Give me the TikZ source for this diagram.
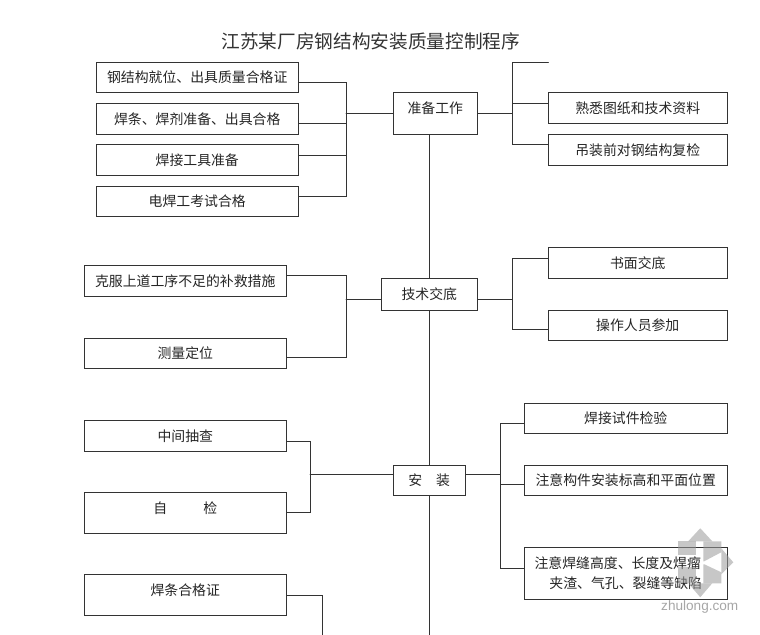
\documentclass[tikz,border=0pt]{standalone}
\usepackage{fontspec}
\setmainfont{Noto Sans CJK SC}
\newfontfamily\markfont{Liberation Sans}
\usetikzlibrary{calc}

\begin{document}
\begin{tikzpicture}[x=0.75pt,y=-0.75pt,cap=round]
  % Colors
  \colorlet{linecolor}{black!80}
  \colorlet{markcolor}{black!40}

  % Styles
  \tikzstyle{box}=[draw=linecolor,line width=0.85pt,fill=white,inner sep=0pt,
    text=black!85,align=center,font=\fontsize{10.4}{15}\selectfont]
  \tikzstyle{wide box}=[box,minimum width=151.5pt,minimum height=23.25pt]
  \tikzstyle{side box}=[box,minimum width=134.25pt,minimum height=23.25pt]
  \tikzstyle{long box}=[box,minimum width=152.25pt,minimum height=22.5pt]
  \tikzstyle{conn}=[draw=linecolor,line width=0.85pt]

  \useasboundingbox (-0.25,-0.25) rectangle (759.75,634.75);

  % Title
  \node[text=black!80,font=\fontsize{14}{16}\selectfont] (title) at (370.5,41) {江苏某厂房钢结构安装质量控制程序};

  % Main steps
  \node[box,minimum width=63pt,minimum height=31.5pt] (prep) at (435,113) {\raisebox{9pt}{准备工作}};
  \node[box,minimum width=72pt,minimum height=24pt] (brief) at (429,294) {技术交底};
  \node[box,minimum width=54pt,minimum height=22.5pt] (inst) at (429,480) {安\quad 装};

  % First group
  \node[wide box,minimum height=22.5pt] (certa) at (197,77) {钢结构就位、出具质量合格证};
  \node[wide box] (rod) at (197,118.5) {焊条、焊剂准备、出具合格};
  \node[wide box] (tool) at (197,159.5) {焊接工具准备};
  \node[wide box,minimum height=22.5pt] (welder) at (197,201) {电焊工考试合格};
  \node[side box] (draw) at (637.5,107.5) {熟悉图纸和技术资料};
  \node[side box] (recheck) at (637.5,149.5) {吊装前对钢结构复检};

  % Second group
  \node[wide box] (remedy) at (185,280.5) {克服上道工序不足的补救措施};
  \node[wide box,minimum height=22.5pt] (survey) at (185,353) {测量定位};
  \node[side box] (paper) at (637.5,262.5) {书面交底};
  \node[side box,minimum height=22.5pt] (staff) at (637.5,325) {操作人员参加};

  % Third group
  \node[wide box] (midchk) at (185,435.5) {中间抽查};
  \node[wide box,minimum height=30.75pt] (selfchk) at (185,512.5) {\raisebox{8pt}{自\hspace{2.6em}检}};
  \node[wide box,minimum height=30.75pt] (rodcert) at (185,594.5) {\raisebox{7pt}{焊条合格证}};
  \node[long box] (weldtest) at (625.5,418) {焊接试件检验};
  \node[long box] (level) at (625.5,480) {注意构件安装标高和平面位置};
  \node[long box,minimum height=39pt] (seam) at (625.5,573) {注意焊缝高度、长度及焊瘤\hspace*{12pt}\\夹渣、气孔、裂缝等缺陷};

  % Junctions
  \coordinate (trunk) at (429,635);
  \coordinate (buspl) at (346,113);
  \coordinate (buspr) at (512,113);
  \coordinate (blank) at (548,62);
  \coordinate (busbl) at (346,299);
  \coordinate (busbr) at (512,299);
  \coordinate (busil) at (310,474);
  \coordinate (busir) at (500,474);
  \coordinate (rodend) at (322,635);

  % Lines
  \draw[conn] (prep.south -| trunk) -- (brief.north -| trunk);
  \draw[conn] (brief.south -| trunk) -- (inst.north -| trunk);
  \draw[conn] (inst.south -| trunk) -- (trunk);

  \draw[conn] (buspl) -- (buspl -| prep.west);
  \draw[conn] (certa.east |- 0,82) -| (buspl);
  \draw[conn] (rod.east |- 0,123) -| (buspl);
  \draw[conn] (tool.east |- 0,155) -| (buspl);
  \draw[conn] (welder.east |- 0,196) -| (buspl);
  \draw[conn] (buspr -| prep.east) -- (buspr);
  \draw[conn] (blank) -| (buspr);
  \draw[conn] (draw.west |- 0,103) -| (buspr);
  \draw[conn] (recheck.west |- 0,144) -| (buspr);

  \draw[conn] (busbl) -- (busbl -| brief.west);
  \draw[conn] (remedy.east |- 0,275) -| (busbl);
  \draw[conn] (survey.east |- 0,357) -| (busbl);
  \draw[conn] (busbr -| brief.east) -- (busbr);
  \draw[conn] (paper.west |- 0,258) -| (busbr);
  \draw[conn] (staff.west |- 0,329) -| (busbr);

  \draw[conn] (busil) -- (busil -| inst.west);
  \draw[conn] (midchk.east |- 0,441) -| (busil);
  \draw[conn] (selfchk.east |- 0,512) -| (busil);
  \draw[conn] (rodcert.east |- 0,595) -| (rodend);
  \draw[conn] (busir -| inst.east) -- (busir);
  \draw[conn] (weldtest.west |- 0,423) -| (busir);
  \draw[conn] (level.west |- 0,484) -| (busir);
  \draw[conn] (seam.west |- 0,568) -| (busir);

  % Watermark
  \begin{scope}[fill=markcolor,fill opacity=0.55]
    \fill (700,528) -- (712,541) -- (688,541) -- cycle;
    \fill (700,597) -- (712,583) -- (688,583) -- cycle;
    \fill (733,562) -- (721,548) -- (721,574) -- cycle;
    \fill (678,541) -- (696,541) -- (696,555) -- (678,555) -- cycle;
    \fill (703,541) -- (721,541) -- (721,552) -- (704,561) -- (703,561) -- cycle;
    \fill (678,567) -- (696,567) -- (696,583) -- (678,583) -- cycle;
    \fill (703,564) -- (704,564) -- (721,572) -- (721,583) -- (703,583) -- cycle;
  \end{scope}
  \node[text=black!35,font=\markfont\fontsize{10.2}{12}\selectfont] (mark) at (699.5,607) {zhulong.com};
\end{tikzpicture}
\end{document}
